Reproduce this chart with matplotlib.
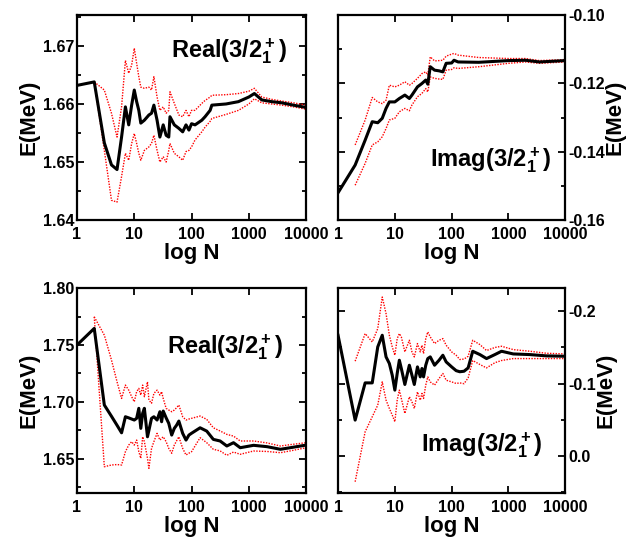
"""Convergence of the 3/2+ resonance energy vs. sample size (four panels)."""

import matplotlib

matplotlib.use("Agg")

import matplotlib.pyplot as plt
import numpy as np
from matplotlib.ticker import FixedLocator, FormatStrFormatter, LogLocator, MultipleLocator, NullFormatter

plt.rcParams["font.family"] = ["Liberation Sans", "DejaVu Sans"]
plt.rcParams["font.weight"] = "bold"
plt.rcParams["axes.unicode_minus"] = False
plt.rcParams["mathtext.fontset"] = "custom"
plt.rcParams["mathtext.rm"] = "Liberation Sans:bold"
plt.rcParams["mathtext.it"] = "Liberation Sans:bold"
plt.rcParams["mathtext.bf"] = "Liberation Sans:bold"

NAN = np.nan
LINE_MEAN = "#000000"
LINE_BAND = "#ff0000"

# --- top left: real part, first set ---
n_tl = [1, 2, 3, 4, 5, 6, 7, 8, 9, 10, 11, 12, 13, 15, 18, 20, 22, 25, 28, 32, 36, 40, 42,
        50, 60, 70, 80, 90, 100, 115, 151, 172, 211, 226, 400, 658, 1000, 1250, 1683,
        2500, 3760, 6000, 10000]
mean_tl = [1.6632, 1.6638, 1.6533, 1.6495, 1.6487, 1.6543, 1.6595, 1.6564, 1.6598, 1.6624,
           1.6604, 1.6589, 1.6567, 1.6572, 1.6581, 1.6584, 1.6598, 1.6572, 1.6543, 1.6564,
           1.6546, 1.6543, 1.6578, 1.6564, 1.6558, 1.6552, 1.6564, 1.6555, 1.6566, 1.6564,
           1.6572, 1.6578, 1.6589, 1.6598, 1.6600, 1.6604, 1.6612, 1.6618, 1.6607, 1.6604,
           1.6602, 1.6598, 1.6594]
hi_tl = [NAN, 1.6638, 1.6624, 1.6584, 1.6543, 1.6595, 1.6675, 1.6653, 1.6667, 1.6696,
         1.6670, 1.6647, 1.6629, 1.6627, 1.6629, 1.6624, 1.6647, 1.6612, 1.6589, 1.6595,
         1.6584, 1.6589, 1.6621, 1.6601, 1.6581, 1.6578, 1.6589, 1.6578, 1.6589, 1.6589,
         1.6601, 1.6606, 1.6612, 1.6615, 1.6616, 1.6618, 1.6622, 1.6627, 1.6612, 1.6608,
         1.6605, 1.6602, 1.6598]
lo_tl = [NAN, 1.6638, 1.6520, 1.6434, 1.6431, 1.6475, 1.6515, 1.6503, 1.6532, 1.6549,
         1.6532, 1.6515, 1.6503, 1.6520, 1.6526, 1.6532, 1.6546, 1.6520, 1.6500, 1.6509,
         1.6500, 1.6520, 1.6532, 1.6515, 1.6509, 1.6503, 1.6518, 1.6520, 1.6526, 1.6538,
         1.6552, 1.6560, 1.6570, 1.6575, 1.6582, 1.6589, 1.6600, 1.6609, 1.6602, 1.6600,
         1.6598, 1.6595, 1.6591]

# --- top right: imaginary part, first set ---
n_tr = [1, 2, 3, 4, 5, 6, 7, 8, 10, 12, 15, 18, 20, 25, 30, 35, 38, 42, 50, 60, 70, 80,
        100, 110, 130, 300, 1000, 2000, 3500, 10000]
mean_tr = [-0.1520, -0.1439, -0.1366, -0.1312, -0.1315, -0.1302, -0.1273, -0.1254, -0.1254,
           -0.1244, -0.1234, -0.1244, -0.1234, -0.1210, -0.1200, -0.1190, -0.1202, -0.1151,
           -0.1161, -0.1163, -0.1166, -0.1141, -0.1140, -0.1132, -0.1137, -0.1138, -0.1133,
           -0.1132, -0.1137, -0.1133]
hi_tr = [NAN, -0.1380, -0.1307, -0.1241, -0.1254, -0.1259, -0.1249, -0.1205, -0.1210,
         -0.1205, -0.1195, -0.1205, -0.1200, -0.1185, -0.1171, -0.1166, -0.1175, -0.1122,
         -0.1134, -0.1133, -0.1132, -0.1120, -0.1114, -0.1112, -0.1117, -0.1124, -0.1127,
         -0.1127, -0.1133, -0.1130]
lo_tr = [NAN, -0.1498, -0.1434, -0.1380, -0.1371, -0.1356, -0.1332, -0.1307, -0.1302,
         -0.1283, -0.1273, -0.1280, -0.1263, -0.1239, -0.1229, -0.1215, -0.1225, -0.1181,
         -0.1185, -0.1187, -0.1188, -0.1161, -0.1159, -0.1154, -0.1156, -0.1151, -0.1141,
         -0.1137, -0.1141, -0.1137]

# --- bottom left: real part, second set ---
n_bl = [1, 2, 3, 4, 5, 6, 7, 8, 9, 10, 11, 12, 13, 14, 15, 17, 18, 20, 22, 25, 28, 30, 32,
        36, 40, 45, 50, 55, 60, 70, 80, 90, 100, 141, 184, 240, 315, 413, 540, 707, 1210,
        2080, 3560, 5300, 10000]
mean_bl = [1.7500, 1.7646, 1.6973, 1.6874, 1.6795, 1.6729, 1.6870, 1.6860, 1.6850, 1.6841,
           1.6856, 1.6944, 1.6768, 1.6900, 1.6944, 1.6694, 1.6750, 1.6856, 1.6870, 1.6841,
           1.6914, 1.6826, 1.6920, 1.6860, 1.6812, 1.6709, 1.6768, 1.6797, 1.6832, 1.6724,
           1.6665, 1.6709, 1.6725, 1.6773, 1.6744, 1.6671, 1.6657, 1.6613, 1.6642, 1.6598,
           1.6619, 1.6607, 1.6584, 1.6598, 1.6621]
hi_bl = [NAN, 1.7748, 1.7587, 1.7368, 1.7177, 1.7031, 1.7148, 1.7104, 1.7046, 1.7002,
         1.7090, 1.7119, 1.7060, 1.7148, 1.7046, 1.7177, 1.7017, 1.6988, 1.7075, 1.7104,
         1.7060, 1.7090, 1.7031, 1.6944, 1.6929, 1.6914, 1.6929, 1.6950, 1.6973, 1.6870,
         1.6841, 1.6850, 1.6856, 1.6876, 1.6847, 1.6773, 1.6745, 1.6715, 1.6700, 1.6657,
         1.6657, 1.6640, 1.6613, 1.6625, 1.6642]
lo_bl = [NAN, 1.7748, 1.6431, 1.6446, 1.6450, 1.6446, 1.6563, 1.6621, 1.6651, 1.6621,
         1.6665, 1.6563, 1.6505, 1.6694, 1.6651, 1.6505, 1.6417, 1.6592, 1.6651, 1.6724,
         1.6665, 1.6680, 1.6694, 1.6651, 1.6592, 1.6549, 1.6621, 1.6660, 1.6694, 1.6592,
         1.6534, 1.6550, 1.6563, 1.6686, 1.6642, 1.6584, 1.6570, 1.6531, 1.6560, 1.6540,
         1.6569, 1.6565, 1.6554, 1.6570, 1.6598]

# --- bottom right: imaginary part, second set ---
n_br = [1, 2, 3, 4, 5, 6, 7, 8, 9, 10, 11, 12, 13, 15, 18, 20, 22, 25, 28, 30, 32, 35, 38,
        42, 50, 60, 70, 80, 100, 120, 139, 165, 195, 235, 314, 411, 576, 755, 1213, 2386,
        4690, 10000]
mean_br = [-0.1669, -0.0497, -0.1011, -0.1011, -0.1508, -0.1669, -0.1370, -0.1279, -0.1117,
           -0.0911, -0.1141, -0.1324, -0.1210, -0.0989, -0.1255, -0.1117, -0.0989, -0.1232,
           -0.1094, -0.1210, -0.1094, -0.1255, -0.1347, -0.1370, -0.1255, -0.1324, -0.1393,
           -0.1301, -0.1232, -0.1180, -0.1165, -0.1172, -0.1218, -0.1448, -0.1402, -0.1347,
           -0.1402, -0.1448, -0.1411, -0.1402, -0.1384, -0.1379]
hi_br = [NAN, -0.1311, -0.1692, -0.1577, -0.1761, -0.2197, -0.1968, -0.1669, -0.1508,
         -0.1393, -0.1623, -0.1692, -0.1646, -0.1439, -0.1600, -0.1439, -0.1370, -0.1554,
         -0.1439, -0.1531, -0.1416, -0.1623, -0.1715, -0.1646, -0.1554, -0.1600, -0.1623,
         -0.1531, -0.1439, -0.1393, -0.1334, -0.1340, -0.1379, -0.1600, -0.1540, -0.1458,
         -0.1500, -0.1517, -0.1471, -0.1448, -0.1420, -0.1411]
lo_br = [NAN, 0.0354, -0.0336, -0.0543, -0.0704, -0.1025, -0.0773, -0.0658, -0.0566,
         -0.0474, -0.0773, -0.0911, -0.0796, -0.0589, -0.0819, -0.0749, -0.0658, -0.0887,
         -0.0773, -0.0865, -0.0796, -0.0980, -0.1094, -0.1025, -0.0980, -0.1072, -0.1141,
         -0.1048, -0.1025, -0.1003, -0.1011, -0.1000, -0.1080, -0.1320, -0.1265, -0.1218,
         -0.1290, -0.1320, -0.1347, -0.1347, -0.1347, -0.1347]

x_ticks = [1, 10, 100, 1000, 10000]
x_tick_labels = ["1", "10", "100", "1000", "10000"]

LABEL_REAL = r"Real(3/2$_1^+$)"
LABEL_IMAG = r"Imag(3/2$_1^+$)"


def draw_panel(ax, n, mean, hi, lo, *, ylim, major, minor, fmt, right=False,
               label="", label_xy=(0.4, 0.8)):
    ax.plot(n, hi, color=LINE_BAND, lw=1.0, ls=(0, (1, 1)), zorder=2)
    ax.plot(n, lo, color=LINE_BAND, lw=1.0, ls=(0, (1, 1)), zorder=2)
    ax.plot(n, mean, color=LINE_MEAN, lw=2.2, zorder=3)

    ax.set_xscale("log")
    ax.set_xlim(1, 10000)
    ax.xaxis.set_major_locator(FixedLocator(x_ticks))
    ax.set_xticklabels(x_tick_labels)
    ax.xaxis.set_minor_locator(LogLocator(base=10, subs=np.arange(2, 10)))
    ax.xaxis.set_minor_formatter(NullFormatter())

    ax.set_ylim(*ylim)
    ax.yaxis.set_major_locator(MultipleLocator(major))
    ax.yaxis.set_minor_locator(MultipleLocator(minor))
    ax.yaxis.set_major_formatter(FormatStrFormatter(fmt))

    ax.tick_params(which="both", direction="in", top=True, right=True, width=1.3,
                   labelsize=11.5)
    ax.tick_params(axis="x", pad=5)
    ax.tick_params(axis="y", pad=2)
    ax.tick_params(which="major", length=5)
    ax.tick_params(which="minor", length=3)
    for spine in ax.spines.values():
        spine.set_linewidth(1.6)

    if right:
        ax.tick_params(labelleft=False, labelright=True)
        ax.yaxis.set_label_position("right")
    ax.set_xlabel("log N", fontsize=16, fontweight="bold", labelpad=1)
    ax.set_ylabel("E(MeV)", fontsize=16, fontweight="bold", labelpad=0 if right else 2)

    ax.text(label_xy[0], label_xy[1], label, transform=ax.transAxes, fontsize=17,
            fontweight="bold", ha="left", va="baseline")


fig = plt.figure(figsize=(6.26, 5.42), dpi=100)
ax_tl = fig.add_axes([0.123, 0.594, 0.366, 0.378])
ax_tr = fig.add_axes([0.540, 0.594, 0.363, 0.378])
ax_bl = fig.add_axes([0.123, 0.0904, 0.366, 0.378])
ax_br = fig.add_axes([0.540, 0.0904, 0.363, 0.378])

draw_panel(ax_tl, n_tl, mean_tl, hi_tl, lo_tl, ylim=(1.64, 1.6753), major=0.01,
           minor=0.005, fmt="%.2f", label=LABEL_REAL, label_xy=(0.41, 0.795))
draw_panel(ax_tr, n_tr, mean_tr, hi_tr, lo_tr, ylim=(-0.16, -0.10), major=0.02,
           minor=0.01, fmt="%.2f", right=True, label=LABEL_IMAG, label_xy=(0.405, 0.263))
draw_panel(ax_bl, n_bl, mean_bl, hi_bl, lo_bl, ylim=(1.62, 1.80), major=0.05,
           minor=0.025, fmt="%.2f", label=LABEL_REAL, label_xy=(0.393, 0.683))
draw_panel(ax_br, n_br, mean_br, hi_br, lo_br, ylim=(0.051, -0.232), major=0.1,
           minor=0.05, fmt="%.1f", right=True, label=LABEL_IMAG, label_xy=(0.366, 0.205))

fig.savefig("out.png", dpi=100)
